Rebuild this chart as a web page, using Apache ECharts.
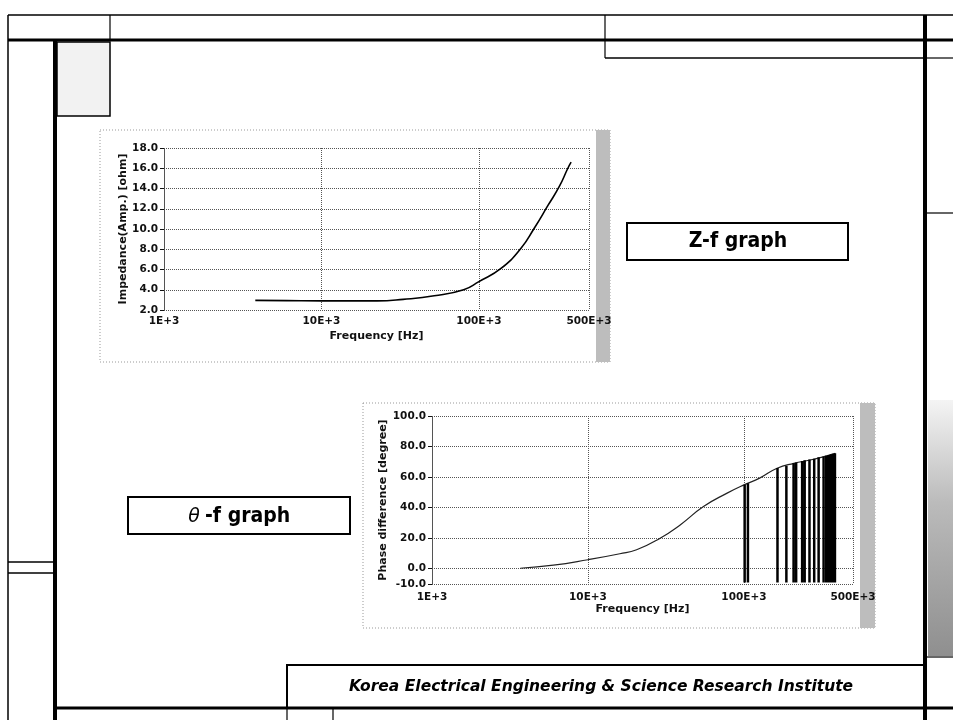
<!DOCTYPE html>
<html><head><meta charset="utf-8">
<script src="https://cdn.jsdelivr.net/npm/echarts@6/dist/echarts.min.js"></script>
<style>html,body{margin:0;padding:0;background:#fff}#c{width:953px;height:720px}</style>
</head><body><div id="c"></div>
<script>
// ---- data ----
const xTicks = [1000, 10000, 100000, 500000];
const xTickLabels = ['1E+3', '10E+3', '100E+3', '500E+3'];

const impFreq  = [3800, 6000, 10000, 15000, 22600, 33000, 52000, 80000, 100000, 138000, 185000, 224000, 275000, 324000, 367000, 385000];
const impValue = [2.95, 2.93, 2.9, 2.9, 2.9, 3.05, 3.4, 4.0, 4.8, 6.1, 8.1, 10.05, 12.35, 14.2, 16.0, 16.6];

const phaseFreq  = [3680, 6000, 10000, 16000, 20500, 29000, 39000, 55000, 78000, 100000, 126000, 163000, 209000, 266000, 339000, 385000];
const phaseValue = [0.3, 2.3, 5.9, 9.8, 12.4, 20, 28.7, 40.7, 49.5, 54.9, 59.3, 65.8, 69, 71.2, 73.9, 75.6];

const spikeFreq = [101000, 106000, 164000, 187000, 208000, 216000, 236000, 245000, 263000, 282000, 301000, 324000, 337000, 349000, 361000, 372000, 383000];
const spikeTop  = [55, 56, 66, 67.5, 69, 69.5, 70.5, 71, 71.5, 72, 73, 73.5, 74, 74.5, 75, 75.3, 75.6];
const spikeBottom = -9;

const impTicks = [2, 4, 6, 8, 10, 12, 14, 16, 18];
const phaseTicks = [-10, 0, 20, 40, 60, 80, 100];

// ---- build ----
const FONT = 'DejaVu Sans';
function xFmt(v) {
  let best = 0, bd = 1e9;
  xTicks.forEach((t, i) => { const d = Math.abs(Math.log10(v) - Math.log10(t)); if (d < bd) { bd = d; best = i; } });
  return xTickLabels[best];
}
const gridLine = { type: 'dotted', color: '#555', width: 1 };
const labelStyle = { fontFamily: FONT, fontWeight: 'bold', fontSize: 10.5, color: '#111' };
const nameStyle = { fontFamily: FONT, fontWeight: 'bold', fontSize: 11, color: '#111' };

function xAxisCfg(gi, margin, nameGap) {
  return {
    type: 'log', logBase: 10, gridIndex: gi, min: xTicks[0], max: xTicks[xTicks.length - 1],
    axisLine: { show: false },
    axisTick: { show: false, customValues: xTicks },
    axisLabel: Object.assign({ customValues: xTicks, formatter: xFmt, margin: margin, showMinLabel: true, showMaxLabel: true }, labelStyle),
    splitLine: { show: true, lineStyle: gridLine },
    minorTick: { show: false }, minorSplitLine: { show: false },
    name: 'Frequency [Hz]', nameLocation: 'middle', nameGap: nameGap, nameTextStyle: nameStyle
  };
}
function yAxisCfg(gi, ticks, name, nameGap) {
  return {
    type: 'value', gridIndex: gi, min: ticks[0], max: ticks[ticks.length - 1],
    axisLine: { show: true, lineStyle: gridLine },
    axisTick: { show: true, length: 4, customValues: ticks, lineStyle: { color: '#111', width: 1 } },
    axisLabel: Object.assign({ customValues: ticks, formatter: v => v.toFixed(1), margin: 6 }, labelStyle),
    splitLine: { show: true, lineStyle: gridLine },
    name: name, nameLocation: 'middle', nameGap: nameGap, nameTextStyle: nameStyle
  };
}

const spikeData = [];
spikeFreq.forEach((f, i) => { spikeData.push([f, spikeBottom], [f, spikeTop[i]], [f, '-']); });

const G = [];
function line(x1, y1, x2, y2, w) { G.push({ type: 'line', z: 100, shape: { x1, y1, x2, y2 }, style: { stroke: '#000', lineWidth: w } }); }
function rect(x, y, w, h, style, z) { G.push({ type: 'rect', z: z === undefined ? -10 : z, shape: { x, y, width: w, height: h }, style }); }

// panels behind the charts
rect(100, 130, 510, 232, { fill: '#fff', stroke: '#999', lineWidth: 1, lineDash: [1, 2] });
rect(596, 130, 14, 232, { fill: '#bdbdbd' });
rect(363, 403, 512, 225, { fill: '#fff', stroke: '#999', lineWidth: 1, lineDash: [1, 2] });
rect(860, 403, 15, 225, { fill: '#bdbdbd' });

// slide frame
rect(57, 42, 53, 74, { fill: '#f2f2f2', stroke: '#000', lineWidth: 1.5 }, 50);
rect(928, 400, 25, 256, { fill: { type: 'linear', x: 0, y: 0, x2: 0, y2: 1, colorStops: [{ offset: 0, color: '#f4f4f4' }, { offset: 0.4, color: '#bbb' }, { offset: 1, color: '#8f8f8f' }] } }, 50);
line(8, 15, 953, 15, 1.5);
line(8, 15, 8, 720, 1.5);
line(8, 40, 953, 40, 3);
line(110, 15, 110, 40, 1.2);
line(55, 40, 55, 720, 4);
line(8, 562, 55, 562, 1.5);
line(8, 573, 55, 573, 1.5);
line(605, 15, 605, 58, 1.2);
line(605, 58, 925, 58, 1.5);
line(925, 15, 925, 720, 4);
line(925, 58, 953, 58, 1.2);
line(925, 213, 953, 213, 1.2);
line(925, 657, 953, 657, 1.2);
line(55, 708, 953, 708, 3);
line(287, 708, 287, 720, 1.2);
line(333, 708, 333, 720, 1.2);
rect(287, 665, 638, 43, { fill: 'none', stroke: '#000', lineWidth: 2 }, 60);
G.push({ type: 'text', z: 100, x: 601, y: 687, style: { text: 'Korea Electrical Engineering & Science Research Institute', fontFamily: FONT, fontWeight: 'bold', fontStyle: 'italic', fontSize: 15.5, fill: '#000', align: 'center', verticalAlign: 'middle' } });

// caption boxes
rect(627, 223, 221, 37, { fill: '#fff', stroke: '#000', lineWidth: 2 }, 60);
G.push({ type: 'text', z: 100, x: 738, y: 242, style: { text: 'Z-f graph', fontFamily: '"DejaVu Sans Condensed", "DejaVu Sans"', fontWeight: 'bold', fontSize: 21, fill: '#000', align: 'center', verticalAlign: 'middle' } });
rect(128, 497, 222, 37, { fill: '#fff', stroke: '#000', lineWidth: 2 }, 60);
G.push({ type: 'text', z: 100, x: 194, y: 517, style: { text: 'θ', fontFamily: FONT, fontStyle: 'italic', fontSize: 19, fill: '#000', align: 'center', verticalAlign: 'middle' } });
G.push({ type: 'text', z: 100, x: 205, y: 517, style: { text: '-f graph', fontFamily: '"DejaVu Sans Condensed", "DejaVu Sans"', fontWeight: 'bold', fontSize: 21, fill: '#000', align: 'left', verticalAlign: 'middle' } });

const option = {
  animation: false,
  backgroundColor: '#fff',
  grid: [
    { left: 164, top: 148, width: 425, height: 162 },
    { left: 432, top: 416, width: 421, height: 168 }
  ],
  xAxis: [xAxisCfg(0, 6, 21), xAxisCfg(1, 8, 20)],
  yAxis: [
    Object.assign(yAxisCfg(0, impTicks, 'Impedance(Amp.) [ohm]', 32), { interval: 2 }),
    yAxisCfg(1, phaseTicks, 'Phase difference [degree]', 43)
  ],
  graphic: G,
  series: [
    { type: 'line', xAxisIndex: 0, yAxisIndex: 0, smooth: true, showSymbol: false, data: impFreq.map((f, i) => [f, impValue[i]]), lineStyle: { color: '#000', width: 1.6 } },
    { type: 'line', xAxisIndex: 1, yAxisIndex: 1, smooth: true, showSymbol: false, data: phaseFreq.map((f, i) => [f, phaseValue[i]]), lineStyle: { color: '#222', width: 1.2 } },
    { type: 'line', xAxisIndex: 1, yAxisIndex: 1, showSymbol: false, connectNulls: false, data: spikeData, lineStyle: { color: '#000', width: 2.5 } }
  ]
};
echarts.init(document.getElementById('c'), null, { renderer: 'canvas' }).setOption(option);
</script></body></html>
